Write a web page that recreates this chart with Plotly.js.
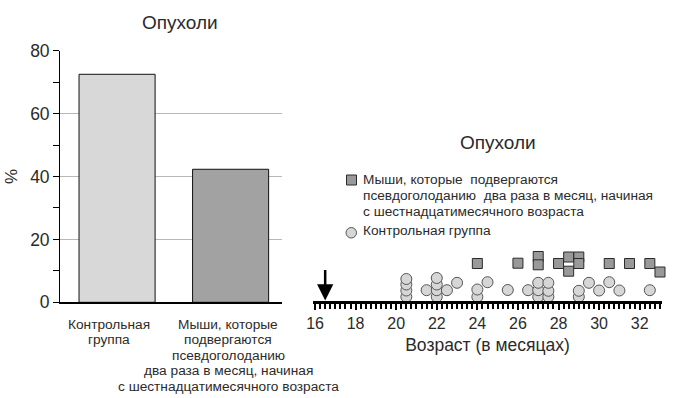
<!DOCTYPE html>
<html>
<head>
<meta charset="utf-8">
<script src="https://cdn.plot.ly/plotly-3.0.1.min.js"></script>
<style>html,body{margin:0;padding:0;background:#fff;}#chart{width:682px;height:398px;}</style>
</head>
<body>
<div id="chart"></div>
<script>
// ---- data ----
const chartTitle = 'Опухоли';
const barCategories = ['Контрольная<br>группа',
  'Мыши, которые<br>подвергаются<br>псевдоголоданию<br>два раза в месяц, начиная<br>с шестнадцатимесячного возраста'];
const barValues = [72.5, 42.3];
const yAxisTitle = '%';

const controlAge = [20.5, 20.5, 20.5, 20.5, 21.5, 22, 22, 22, 22, 22.5, 23, 24, 24, 24.5, 25.5, 26.5,
  27, 27, 27, 27.5, 27.5, 27.5, 29, 29, 29.5, 30, 30.5, 31, 32.5];
const controlLevel = [3.7, 10, 16, 21.5, 10.3, 3.7, 10.3, 16, 22.5, 10.3, 17.7, 3.7, 11, 18.3, 10.5, 10.3,
  3.7, 10.3, 17.7, 3.7, 9.7, 17.7, 3.7, 9.7, 17.7, 10, 18.3, 10, 10.3];

const fastingAge = [24, 26, 27, 27, 28, 28.5, 28.5, 29, 29, 30.5, 31.5, 32.5, 33];
const fastingLevel = [37, 37.3, 44, 35.7, 37, 43.5, 29.3, 43.5, 37, 37, 37, 37, 28.5];

const ageTicks = [16, 18, 20, 22, 24, 26, 28, 30, 32];
const fastingStartAge = 16.5;
const xAxisTitle = 'Возраст (в месяцах)';
const legendNames = ['Мыши, которые  подвергаются<br>псевдоголоданию  два раза в месяц, начиная<br>с шестнадцатимесячного возраста',
  'Контрольная группа'];

// ---- helpers (pixel -> paper) ----
const W = 682, H = 398;
const px = v => v / W;
const py = v => 1 - v / H;
const FONT = 'Liberation Sans, Arial, sans-serif';
const TXT = '#2b2b2b';
const SMALL = 13.7;
const LINE = 15.5;

const traces = [
  {
    type: 'bar', x: [0, 1], y: barValues, width: 0.67,
    marker: {color: ['#d8d8d8', '#a2a2a2'], line: {color: '#111', width: 1}},
    xaxis: 'x', yaxis: 'y', showlegend: false, hoverinfo: 'y'
  },
  {
    type: 'scatter', mode: 'markers', x: controlAge, y: controlLevel,
    marker: {symbol: 'circle', size: 11, color: '#d6d6d6', line: {color: '#555', width: 1}},
    xaxis: 'x2', yaxis: 'y2', cliponaxis: false, showlegend: false, name: 'Контрольная группа'
  },
  {
    type: 'scatter', mode: 'markers', x: fastingAge, y: fastingLevel,
    marker: {symbol: 'square', size: 10, color: '#999999', line: {color: '#2a2a2a', width: 1}},
    xaxis: 'x2', yaxis: 'y2', cliponaxis: false, showlegend: false, name: 'Мыши'
  }
];

// multi-line text block, one annotation per line for exact line spacing
function textBlock(text, xPix, firstLineY, anchor) {
  return text.split('<br>').map((line, i) => ({
    text: line, xref: 'paper', yref: 'paper', x: px(xPix), y: py(firstLineY + i * LINE),
    xanchor: anchor, yanchor: 'middle', align: anchor, showarrow: false,
    font: {size: SMALL, color: TXT, family: FONT}
  }));
}

const annotations = [
  {text: chartTitle, xref: 'paper', yref: 'paper', x: px(180), y: py(22), xanchor: 'center', yanchor: 'middle',
   showarrow: false, font: {size: 19, color: TXT, family: FONT}},
  {text: chartTitle, xref: 'paper', yref: 'paper', x: px(498), y: py(142), xanchor: 'center', yanchor: 'middle',
   showarrow: false, font: {size: 19, color: TXT, family: FONT}},
  ...textBlock(barCategories[0], 109, 324, 'center'),
  ...textBlock(barCategories[1], 228, 324, 'center'),
  ...textBlock(legendNames[0], 361, 180, 'left'),
  ...textBlock(legendNames[1], 361, 230.5, 'left'),
  {text: '', xref: 'x2', yref: 'y2', x: fastingStartAge, y: 0, ax: 0, ay: -32, showarrow: true,
   arrowhead: 2, arrowwidth: 2.5, arrowsize: 1.3, arrowcolor: '#000', standoff: 0}
];

const shapes = [
  {type: 'rect', xref: 'paper', yref: 'paper', x0: px(346.5), x1: px(356.5), y0: py(185), y1: py(175),
   fillcolor: '#999999', line: {color: '#2a2a2a', width: 1}},
  {type: 'circle', xref: 'paper', yref: 'paper', x0: px(346), x1: px(356.5), y0: py(238), y1: py(227.5),
   fillcolor: '#d6d6d6', line: {color: '#555', width: 1}}
];

const layout = {
  width: W, height: H,
  margin: {l: 0, r: 0, t: 0, b: 0},
  paper_bgcolor: '#fff', plot_bgcolor: 'rgba(0,0,0,0)',
  font: {family: FONT, color: TXT},
  showlegend: false,
  xaxis: {domain: [px(60.3), px(281.7)], range: [-0.5, 1.45], anchor: 'y',
    showline: true, linecolor: '#000', linewidth: 1.5, ticks: '', showticklabels: false,
    showgrid: false, zeroline: false, fixedrange: true},
  yaxis: {domain: [py(302.3), py(50.7)], range: [0, 80], anchor: 'x',
    showline: true, linecolor: '#000', linewidth: 1.2, ticks: 'outside', ticklen: 6, tickcolor: '#000', tickwidth: 1,
    dtick: 20, tick0: 0, minor: {dtick: 10, ticks: 'outside', ticklen: 6, tickcolor: '#000', tickwidth: 1, showgrid: false},
    showgrid: true, gridcolor: '#b8b8b8', gridwidth: 1, zeroline: false,
    tickfont: {size: 17.5, color: TXT, family: FONT},
    title: {text: yAxisTitle, font: {size: 17, color: TXT, family: FONT}, standoff: 8}},
  xaxis2: {domain: [px(313), px(662)], range: [15.9, 33.1], anchor: 'y2',
    showline: true, linecolor: '#000', linewidth: 3,
    ticks: 'outside', ticklen: 6, tickwidth: 2, tickcolor: '#000',
    tickvals: ageTicks, ticktext: ageTicks.map(String),
    minor: {dtick: 0.25, tick0: 16, ticks: 'outside', ticklen: 5, tickwidth: 2, tickcolor: '#000', showgrid: false},
    showgrid: false, zeroline: false,
    tickfont: {size: 16, color: TXT, family: FONT},
    title: {text: xAxisTitle, font: {size: 17.5, color: TXT, family: FONT}, standoff: 9}},
  yaxis2: {domain: [py(300.5), py(250.5)], range: [0, 50], anchor: 'x2', visible: false, fixedrange: true},
  annotations: annotations,
  shapes: shapes
};

Plotly.newPlot('chart', traces, layout, {displayModeBar: false, staticPlot: true});
</script>
</body>
</html>
